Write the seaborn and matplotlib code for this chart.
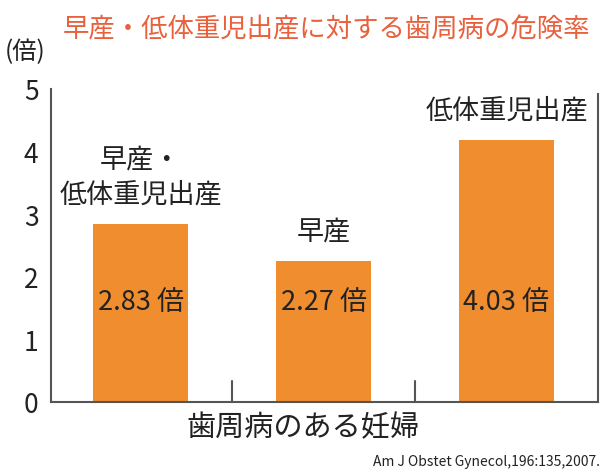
import matplotlib
matplotlib.use("Agg")
import matplotlib.pyplot as plt
import seaborn as sns
import pandas as pd

categories = ["早産・\n低体重児出産", "早産", "低体重児出産"]
heights = [2.85, 2.25, 4.18]
value_labels = ["2.83 倍", "2.27 倍", "4.03 倍"]
yticks = [0, 1, 2, 3, 4, 5]
title = "早産・低体重児出産に対する歯周病の危険率"
xlabel = "歯周病のある妊婦"
unit = "(倍)"
citation = "Am J Obstet Gynecol,196:135,2007."

sns.set_style("white")
plt.rcParams['font.family'] = ['Noto Sans CJK JP', 'DejaVu Sans']

df = pd.DataFrame({"cat": categories, "val": heights})

fig = plt.figure(figsize=(6.12, 4.77), dpi=100)
ax = fig.add_axes([51/612, 1-403/477, (598-51)/612, (403-90)/477])
orange = "#F08D2E"
gray = "#555555"
txt = "#222222"
sns.barplot(data=df, x="cat", y="val", color=orange, width=0.52, ax=ax,
            saturation=1, edgecolor="none")
for p in ax.patches:
    p.set_facecolor(orange)

ax.set_xlim(-0.49, 2.5)
ax.set_ylim(0, 5)
ax.set_yticks(yticks)
ax.set_yticklabels([str(t) for t in yticks], fontsize=19, color=txt)
ax.tick_params(axis="y", direction="in", length=17, width=1.5, color=gray, pad=9)
ax.set_xticks([])
ax.set_xlabel("")
ax.set_ylabel("")
for s in ["left", "bottom", "right"]:
    ax.spines[s].set_color(gray)
    ax.spines[s].set_linewidth(1.5)
    ax.spines[s].set_visible(True)
ax.spines["top"].set_visible(False)
ax.spines["right"].set_bounds(0, 4.92)

# separators
for xs in [0.5, 1.5]:
    ax.plot([xs, xs], [0, 0.33], color=gray, lw=1.5, clip_on=False)

unit_px = 313 / 5.0
for i, (h, lab, cat) in enumerate(zip(heights, value_labels, categories)):
    ax.text(i, 1.61, lab, ha="center", va="center", fontsize=19.5, color=txt)
    lines = cat.split("\n")
    for j, line in enumerate(reversed(lines)):
        yc = h + (30 + 35 * j) / unit_px
        ax.text(i, yc, line, ha="center", va="center", fontsize=19.5, color=txt)

fig.text(327/612, 1-30/477, title, ha="center", va="center", fontsize=19, color="#E8603C")
fig.text(25/612, 1-52/477, unit, ha="center", va="center", fontsize=17.5, color=txt)
fig.text(303/612, 1-428/477, xlabel, ha="center", va="center", fontsize=21, color=txt)
fig.text(600/612, 1-462/477, citation, ha="right", va="center", fontsize=10, color=txt)

fig.savefig("out.png", dpi=100)
